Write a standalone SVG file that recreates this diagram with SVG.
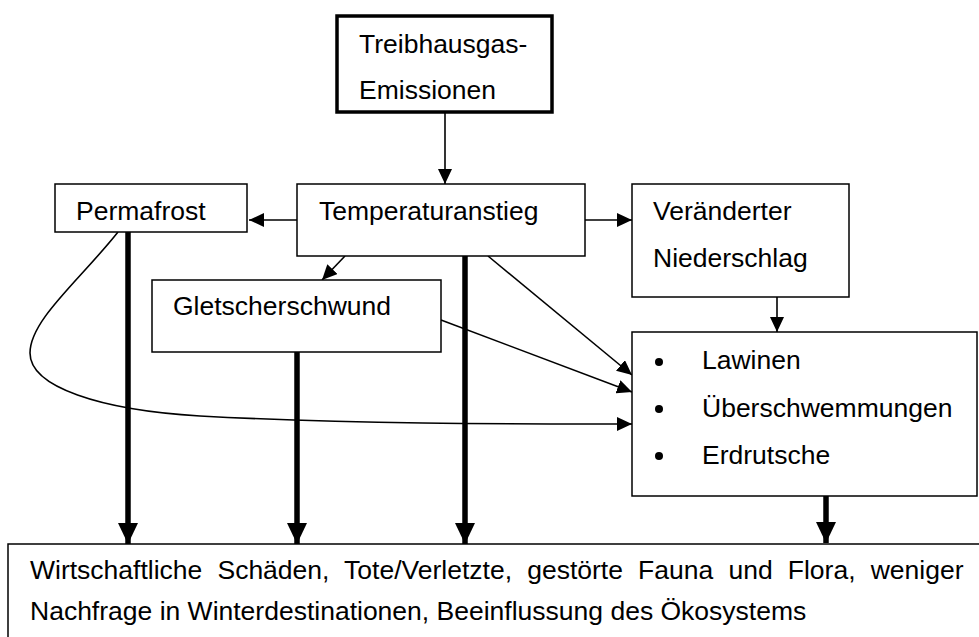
<svg xmlns="http://www.w3.org/2000/svg" width="979" height="637" viewBox="0 0 979 637">
<style>
  .box { fill: #fff; stroke: #000; stroke-width: 1.5; }
  .boxthick { fill: #fff; stroke: #000; stroke-width: 3.5; }
  .lbl { font-family: "Liberation Sans", Arial, sans-serif; font-size: 26.5px; fill: #000; }
  .thin { fill: none; stroke: #000; stroke-width: 1.6; marker-end: url(#ah); }
  .thick { fill: none; stroke: #000; stroke-width: 5.5; marker-end: url(#ahb); }
</style>
<defs>
  <marker id="ah" markerUnits="userSpaceOnUse" markerWidth="16" markerHeight="14" refX="15" refY="7" orient="auto">
    <path d="M0,0 L15,7 L0,14 z" fill="#000"/>
  </marker>
  <marker id="ahb" markerUnits="userSpaceOnUse" markerWidth="22" markerHeight="20" refX="21" refY="10" orient="auto">
    <path d="M0,0 L21,10 L0,20 z" fill="#000"/>
  </marker>
</defs>
<rect width="979" height="637" fill="#fff"/>

<g id="connectors">
  <path class="thin" d="M445,113 L445,184"/>
  <path class="thin" d="M297,220 L249,220"/>
  <path class="thin" d="M585,220 L632,220"/>
  <path class="thin" d="M345,256 L322,280"/>
  <path class="thin" d="M777,297 L777,332"/>
  <path class="thin" d="M488,256 L632,375"/>
  <path class="thin" d="M441,320 L632,392"/>
  <path class="thin" d="M118,232 C80,280 30,320 30,353 C30,387 100,410 200,416 C350,424 500,424 632,424"/>
  <path class="thick" d="M128,232 L128,544"/>
  <path class="thick" d="M297,352 L297,544"/>
  <path class="thick" d="M465,256 L465,544"/>
  <path class="thick" d="M826,496 L826,543"/>
</g>

<g id="treibhausgas">
  <rect class="boxthick" x="337" y="16" width="215" height="96"/>
  <text class="lbl" x="359" y="53">Treibhausgas-</text>
  <text class="lbl" x="359" y="99">Emissionen</text>
</g>
<g id="permafrost">
  <rect class="box" x="55" y="184" width="192" height="48"/>
  <text class="lbl" x="76" y="220">Permafrost</text>
</g>
<g id="temperaturanstieg">
  <rect class="box" x="297" y="184" width="288" height="72"/>
  <text class="lbl" x="319" y="220">Temperaturanstieg</text>
</g>
<g id="niederschlag">
  <rect class="box" x="632" y="184" width="217" height="113"/>
  <text class="lbl" x="653" y="220">Veränderter</text>
  <text class="lbl" x="653" y="267">Niederschlag</text>
</g>
<g id="gletscherschwund">
  <rect class="box" x="152" y="280" width="289" height="72"/>
  <text class="lbl" x="173" y="315">Gletscherschwund</text>
</g>
<g id="naturgefahren">
  <rect class="box" x="632" y="332" width="345" height="164"/>
  <circle cx="659" cy="362" r="4"/>
  <circle cx="659" cy="409" r="4"/>
  <circle cx="659" cy="456" r="4"/>
  <text class="lbl" x="702" y="369">Lawinen</text>
  <text class="lbl" x="702" y="417">Überschwemmungen</text>
  <text class="lbl" x="702" y="464">Erdrutsche</text>
</g>
<g id="folgen">
  <rect class="box" x="8" y="544" width="980" height="100"/>
  <text class="lbl" x="30" y="579" word-spacing="7.8">Wirtschaftliche Schäden, Tote/Verletzte, gestörte Fauna und Flora, weniger</text>
  <text class="lbl" x="30" y="620">Nachfrage in Winterdestinationen, Beeinflussung des Ökosystems</text>
</g>
</svg>
